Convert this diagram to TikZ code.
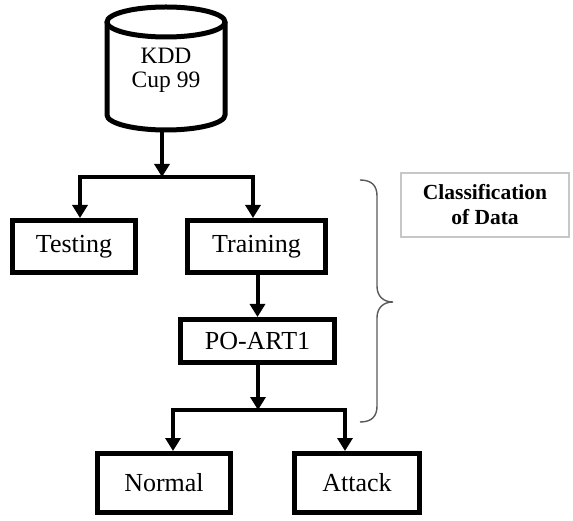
\documentclass[tikz,border=0pt]{standalone}
\usepackage{fontspec}
\setmainfont{Liberation Serif}
\usetikzlibrary{arrows.meta,positioning,calc}
\tikzset{
  box/.style={draw, line width=5pt, inner sep=0pt, font=\fontsize{26}{28}\selectfont},
  conn/.style={line width=4pt},
  arr/.style={line width=4pt, -{Triangle[width=15pt,length=13pt]}},
  note/.style={draw=black!22, line width=1.5pt, inner sep=0pt, align=center,
    font=\bfseries\fontsize{21.5}{25}\selectfont},
  bracestyle/.style={draw=black!65, line width=1.4pt}
}
\begin{document}
\begin{tikzpicture}[x=1pt,y=-1pt]
\useasboundingbox (0,0) rectangle (573,521);
% cylinder
\draw[line width=5pt, fill=white] (107,22) -- (107,115)
  arc[start angle=180,end angle=0,x radius=59,y radius=15] -- (225,22);
\draw[line width=5pt] (166,22) ellipse [x radius=59, y radius=15];
\node[align=center, font=\fontsize{23.5}{24}\selectfont] (kdd) at (166,70) {KDD\\Cup 99};
\coordinate (kddbot) at (162,130);
\coordinate (split1) at (162,177);

\node[box, minimum width=123pt, minimum height=52pt] (testing) at (74,246.5) {Testing};
\node[box, minimum width=138pt, minimum height=52pt] (training) at (256.5,246.5) {Training};
\node[box, minimum width=154pt, minimum height=43pt] (poart) at (257.5,341) {PO-ART1};
\node[box, minimum width=133pt, minimum height=59pt] (normal) at (164,483) {Normal};
\node[box, minimum width=125pt, minimum height=59pt] (attack) at (357,483) {Attack};
\coordinate (split2) at (258,410);

\node[note, minimum width=168pt, minimum height=64pt] (cls) at (485,205) {Classification\\of Data};

\draw[arr] (kddbot) -- (split1);
\draw[arr] (split1) -| ([xshift=6pt]testing.north);
\draw[arr] (split1) -| ([xshift=-3.5pt]training.north);
\draw[arr] (poart.north |- training.south) -- (poart.north);
\draw[arr] ([xshift=0.5pt]poart.south) -- (split2);
\draw[arr] (split2) -| ([xshift=9pt]normal.north);
\draw[arr] (split2) -| ([xshift=-12pt]attack.north);

% brace
\draw[bracestyle] (360,180) .. controls (372,180) and (377,186) .. (377,196)
  -- (377,286) .. controls (377,296) and (383,302) .. (393,302)
  .. controls (383,302) and (377,308) .. (377,318)
  -- (377,406) .. controls (377,416) and (372,422) .. (360,422);
\end{tikzpicture}
\end{document}
